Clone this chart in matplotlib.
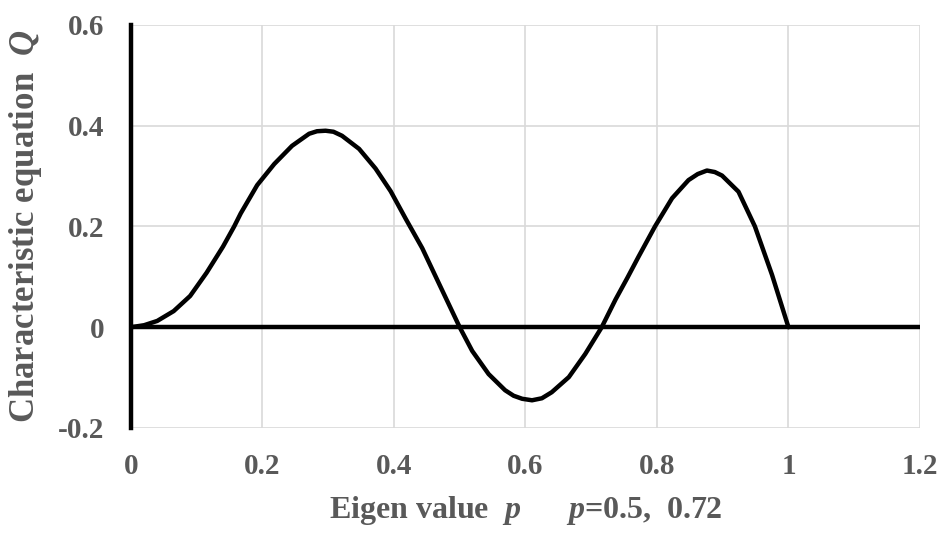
import matplotlib
matplotlib.use("Agg")
import matplotlib.pyplot as plt

# Characteristic equation Q versus eigen value p
p_values = [0.0, 0.02, 0.04, 0.065, 0.09, 0.115, 0.14, 0.157, 0.167, 0.192,
            0.218, 0.245, 0.271, 0.283, 0.296, 0.308, 0.321, 0.347, 0.372, 0.395,
            0.418, 0.443, 0.468, 0.5, 0.519, 0.544, 0.569, 0.582, 0.595, 0.61,
            0.625, 0.64, 0.666, 0.691, 0.716, 0.737, 0.755, 0.772, 0.797, 0.823,
            0.848, 0.862, 0.876, 0.888, 0.899, 0.924, 0.949, 0.975, 1.0]
q_values = [0.0, 0.004, 0.0125, 0.032, 0.062, 0.108, 0.16, 0.2, 0.226, 0.282,
            0.324, 0.36, 0.384, 0.389, 0.39, 0.388, 0.38, 0.354, 0.315, 0.27,
            0.215, 0.157, 0.088, 0.0, -0.047, -0.093, -0.125, -0.136, -0.142, -0.145,
            -0.141, -0.129, -0.099, -0.053, 0.0, 0.055, 0.098, 0.14, 0.2, 0.256,
            0.292, 0.304, 0.311, 0.308, 0.301, 0.269, 0.2, 0.104, 0.0]

x_ticks = [0, 0.2, 0.4, 0.6, 0.8, 1.0, 1.2]
x_tick_labels = ["0", "0.2", "0.4", "0.6", "0.8", "1", "1.2"]
y_ticks = [-0.2, 0, 0.2, 0.4, 0.6]
y_tick_labels = ["-0.2", "0", "0.2", "0.4", "0.6"]

plt.rcParams["font.family"] = ["Liberation Serif", "DejaVu Serif"]
plt.rcParams["font.weight"] = "bold"
plt.rcParams["mathtext.fontset"] = "custom"
plt.rcParams["mathtext.rm"] = "Liberation Serif:bold"
plt.rcParams["mathtext.it"] = "Liberation Serif:italic:bold"
plt.rcParams["mathtext.bf"] = "Liberation Serif:bold"

text_color = "#595959"
grid_color = "#d9d9d9"

fig = plt.figure(figsize=(9.42, 5.36), dpi=100)
ax = fig.add_axes([0.139, 0.2015, 0.8376, 0.752])

ax.set_xlim(0, 1.2)
ax.set_ylim(-0.2, 0.6)

ax.set_xticks(x_ticks)
ax.set_xticklabels(x_tick_labels)
ax.set_yticks(y_ticks)
ax.set_yticklabels(y_tick_labels)

ax.grid(True, color=grid_color, linewidth=1.2, zorder=0)
ax.set_axisbelow(True)

for side in ["top", "right", "bottom"]:
    ax.spines[side].set_visible(False)
ax.spines["left"].set_color("black")
ax.spines["left"].set_linewidth(3.2)
ax.spines["left"].set_zorder(4)

ax.axhline(0, color="black", linewidth=3.2, zorder=3)
ax.plot(p_values, q_values, color="black", linewidth=3.2,
        solid_joinstyle="round", solid_capstyle="round", zorder=5)

ax.tick_params(axis="both", length=0, labelsize=21, labelcolor=text_color)
ax.tick_params(axis="x", pad=18)
ax.tick_params(axis="y", pad=19)
for lbl in ax.get_xticklabels() + ax.get_yticklabels():
    lbl.set_fontweight("bold")

ax.set_xlabel(r"Eigen value  $p$      $p$=0.5,  0.72", fontsize=23,
              color=text_color, fontweight="bold", labelpad=10)
ax.set_ylabel(r"Characteristic equation  $Q$", fontsize=25,
              color=text_color, fontweight="bold", labelpad=10)

fig.savefig("out.png", dpi=100)
